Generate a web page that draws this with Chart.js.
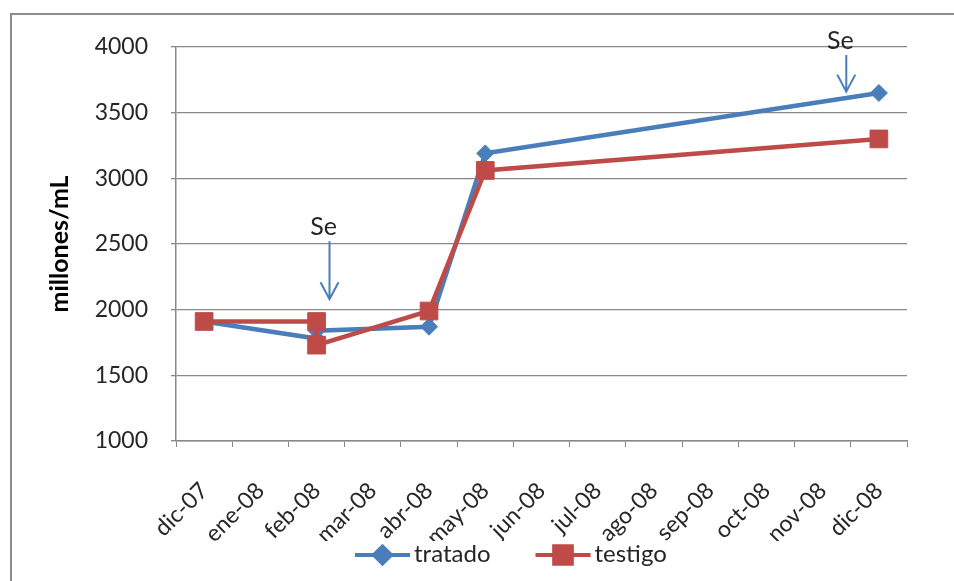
<!DOCTYPE html>
<html>
<head>
<meta charset="utf-8">
<script src="https://cdn.jsdelivr.net/npm/chart.js@4.4.1/dist/chart.umd.min.js"></script>
<style>
  html, body { margin: 0; padding: 0; background: #ffffff; }
  #wrap { width: 954px; height: 581px; position: relative; }
</style>
</head>
<body>
<div id="wrap"><canvas id="c" width="954" height="581"></canvas></div>
<script>
// Axis categories (monthly date axis)
const months = ['dic-07', 'ene-08', 'feb-08', 'mar-08', 'abr-08', 'may-08', 'jun-08',
                'jul-08', 'ago-08', 'sep-08', 'oct-08', 'nov-08', 'dic-08'];
// Sampling months (two samples in February)
const sampleMonths = ['dic-07', 'feb-08', 'feb-08', 'abr-08', 'may-08', 'dic-08'];
// Sperm concentration, millones/mL
const tratado = [1910, 1780, 1840, 1870, 3190, 3650];
const testigo = [1910, 1910, 1730, 1990, 3060, 3300];
const yTicks = [1000, 1500, 2000, 2500, 3000, 3500, 4000];

// Selenium applications: position on the month axis and value span of the arrow
const seLabel = 'Se';
const seMonthPos = [2.23, 11.42];
const seArrowTop = [2520, 3940];
const seArrowTip = [2080, 3660];

const FONT = 'Lato, "Open Sans", sans-serif';
const BLUE = '#4a7ebb';
const RED = '#be4b48';
const GRID = '#888888';
const TEXT = '#262626';

const toPoints = (vals) => vals.map((v, i) => ({ x: sampleMonths[i], y: v }));

const decor = {
  id: 'decor',
  beforeDraw(chart) {
    const ctx = chart.ctx;
    ctx.save();
    ctx.fillStyle = '#ffffff';
    ctx.fillRect(0, 0, chart.width, chart.height);
    // chart frame
    ctx.strokeStyle = '#8c8c8c';
    ctx.lineWidth = 2;
    ctx.beginPath();
    ctx.moveTo(chart.width, 14);
    ctx.lineTo(11, 14);
    ctx.lineTo(11, chart.height);
    ctx.stroke();
    ctx.restore();
  },
  afterDatasetsDraw(chart) {
    const ctx = chart.ctx;
    const xs = chart.scales.x, ys = chart.scales.y;
    ctx.save();
    seMonthPos.forEach((m, i) => {
      const x = xs.getPixelForValue(m);
      const y0 = ys.getPixelForValue(seArrowTop[i]);
      const y1 = ys.getPixelForValue(seArrowTip[i]);
      ctx.strokeStyle = BLUE;
      ctx.lineWidth = 2;
      ctx.beginPath();
      ctx.moveTo(x, y0);
      ctx.lineTo(x, y1);
      ctx.moveTo(x - 9, y1 - 17);
      ctx.lineTo(x, y1);
      ctx.lineTo(x + 9, y1 - 17);
      ctx.stroke();
      ctx.fillStyle = TEXT;
      ctx.font = '25px ' + FONT;
      ctx.textAlign = 'center';
      ctx.textBaseline = 'middle';
      ctx.fillText(seLabel, x - 6, y0 - 14);
    });
    ctx.restore();
  },
  afterDraw(chart) {
    // legend: line with marker, then label
    const ctx = chart.ctx;
    const y = 555;
    let x = 355;
    ctx.save();
    chart.data.datasets.forEach((ds) => {
      ctx.strokeStyle = ds.borderColor;
      ctx.lineWidth = 4;
      ctx.beginPath();
      ctx.moveTo(x, y);
      ctx.lineTo(x + 55, y);
      ctx.stroke();
      ctx.fillStyle = ds.pointBackgroundColor;
      ctx.strokeStyle = ds.pointBorderColor;
      Chart.helpers.drawPoint(ctx, {
        pointStyle: ds.pointStyle, radius: ds.pointRadius,
        rotation: 0, borderWidth: ds.pointBorderWidth
      }, x + 27.5, y);
      ctx.fillStyle = TEXT;
      ctx.font = '24px ' + FONT;
      ctx.textAlign = 'left';
      ctx.textBaseline = 'middle';
      ctx.fillText(ds.label, x + 59, y - 1);
      x += 59 + ctx.measureText(ds.label).width + 45;
    });
    ctx.restore();
  }
};

new Chart(document.getElementById('c'), {
  type: 'line',
  data: {
    labels: months,
    datasets: [
      {
        label: 'tratado',
        data: toPoints(tratado),
        borderColor: BLUE,
        backgroundColor: BLUE,
        pointBackgroundColor: BLUE,
        pointBorderColor: BLUE,
        pointStyle: 'rectRot',
        pointRadius: 8.5,
        pointBorderWidth: 1,
        borderWidth: 4.5,
        tension: 0,
        order: 1
      },
      {
        label: 'testigo',
        data: toPoints(testigo),
        borderColor: RED,
        backgroundColor: RED,
        pointBackgroundColor: RED,
        pointBorderColor: RED,
        pointStyle: 'rect',
        pointRadius: 12.5,
        pointBorderWidth: 1,
        borderWidth: 4.5,
        tension: 0,
        order: 0
      }
    ]
  },
  options: {
    responsive: false,
    animation: false,
    devicePixelRatio: 1,
    layout: { padding: { left: 10, top: 47, right: 47, bottom: 40 } },
    plugins: {
      legend: { display: false },
      tooltip: { enabled: false }
    },
    scales: {
      x: {
        type: 'category',
        labels: months,
        offset: true,
        grid: { offset: true, drawOnChartArea: false, drawTicks: true, tickLength: 6, color: GRID, lineWidth: 1 },
        border: { color: GRID, width: 1.5 },
        ticks: {
          minRotation: 45, maxRotation: 45, autoSkip: false,
          font: { family: FONT, size: 23 }, color: TEXT, padding: 30
        },
        afterFit(s) { s.height = 100; }
      },
      y: {
        min: 1000,
        max: 4000,
        afterBuildTicks(s) { s.ticks = yTicks.map(v => ({ value: v })); },
        grid: { color: GRID, lineWidth: 1.3, drawTicks: true, tickLength: 5 },
        border: { color: GRID, width: 1.5 },
        ticks: {
          font: { family: FONT, size: 23 }, color: TEXT, padding: 23,
          callback: (v) => String(v)
        },
        title: {
          display: true, text: 'millones/mL', color: '#000000',
          font: { family: FONT, size: 25, weight: 'bold' },
          padding: { top: 35, bottom: 0 }
        },
        afterFit(s) { s.width = 166; }
      }
    }
  },
  plugins: [decor]
});
</script>
</body>
</html>
